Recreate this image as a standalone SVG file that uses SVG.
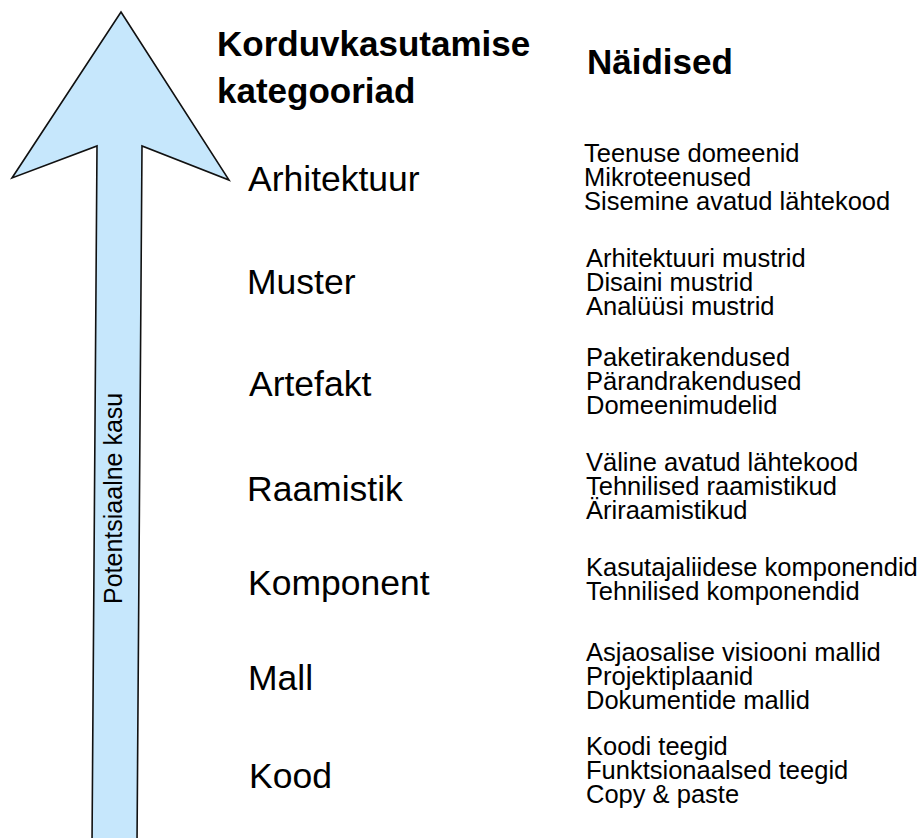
<svg xmlns="http://www.w3.org/2000/svg" width="922" height="838" viewBox="0 0 922 838">
  <style>
    .head { font-family: "Liberation Sans", Arial, sans-serif; font-weight: bold; font-size: 35px; fill: #000; }
    .cat { font-family: "Liberation Sans", Arial, sans-serif; font-size: 35.5px; fill: #000; }
    .ex { font-family: "Liberation Sans", Arial, sans-serif; font-size: 25.5px; fill: #000; }
    .axis { font-family: "Liberation Sans", Arial, sans-serif; font-size: 25px; fill: #000; }
    .arrow { fill: #c6e7fc; stroke: #111; stroke-width: 1.6; stroke-linejoin: miter; }
  </style>
  <rect width="922" height="838" fill="#fff"/>

  <!-- big upward arrow -->
  <g id="arrow">
    <polygon class="arrow" points="121,12 229,180 142,146 137,845 92,845 97,146 12,178"/>
    <text class="axis" transform="translate(122,604) rotate(-90)">Potentsiaalne kasu</text>
  </g>

  <!-- column headings -->
  <g id="heading-categories">
    <text class="head" x="217" y="56">Korduvkasutamise</text>
    <text class="head" x="217" y="103">kategooriad</text>
  </g>
  <g id="heading-examples">
    <text class="head" x="587" y="74">Näidised</text>
  </g>

  <!-- categories -->
  <g id="cat-arhitektuur"><text class="cat" x="248" y="191">Arhitektuur</text></g>
  <g id="cat-muster"><text class="cat" x="247" y="294">Muster</text></g>
  <g id="cat-artefakt"><text class="cat" x="249" y="396">Artefakt</text></g>
  <g id="cat-raamistik"><text class="cat" x="247" y="501">Raamistik</text></g>
  <g id="cat-komponent"><text class="cat" x="248" y="595">Komponent</text></g>
  <g id="cat-mall"><text class="cat" x="248" y="690">Mall</text></g>
  <g id="cat-kood"><text class="cat" x="249" y="788">Kood</text></g>

  <!-- examples -->
  <g id="ex-arhitektuur">
    <text class="ex" x="584" y="162">Teenuse domeenid</text>
    <text class="ex" x="584" y="186">Mikroteenused</text>
    <text class="ex" x="584" y="210">Sisemine avatud lähtekood</text>
  </g>
  <g id="ex-muster">
    <text class="ex" x="586" y="267">Arhitektuuri mustrid</text>
    <text class="ex" x="586" y="291">Disaini mustrid</text>
    <text class="ex" x="586" y="315">Analüüsi mustrid</text>
  </g>
  <g id="ex-artefakt">
    <text class="ex" x="586" y="366">Paketirakendused</text>
    <text class="ex" x="586" y="390">Pärandrakendused</text>
    <text class="ex" x="586" y="414">Domeenimudelid</text>
  </g>
  <g id="ex-raamistik">
    <text class="ex" x="586" y="471">Väline avatud lähtekood</text>
    <text class="ex" x="586" y="495">Tehnilised raamistikud</text>
    <text class="ex" x="586" y="519">Äriraamistikud</text>
  </g>
  <g id="ex-komponent">
    <text class="ex" x="586" y="576">Kasutajaliidese komponendid</text>
    <text class="ex" x="586" y="600">Tehnilised komponendid</text>
  </g>
  <g id="ex-mall">
    <text class="ex" x="586" y="661">Asjaosalise visiooni mallid</text>
    <text class="ex" x="586" y="685">Projektiplaanid</text>
    <text class="ex" x="586" y="709">Dokumentide mallid</text>
  </g>
  <g id="ex-kood">
    <text class="ex" x="586" y="755">Koodi teegid</text>
    <text class="ex" x="586" y="779">Funktsionaalsed teegid</text>
    <text class="ex" x="586" y="803">Copy &amp; paste</text>
  </g>
</svg>
